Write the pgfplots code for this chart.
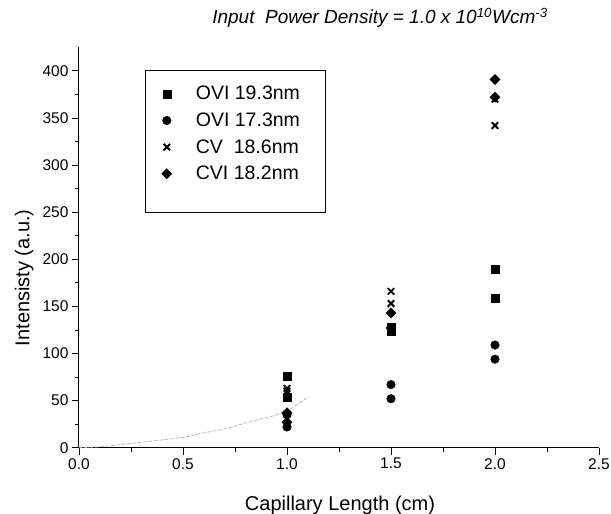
\documentclass[border=0pt]{standalone}
\usepackage{pgfplots}
\pgfplotsset{compat=1.18}
\usepackage{fontspec}
\setmainfont{Liberation Sans}
\begin{document}
\begin{tikzpicture}
\useasboundingbox (-79pt,-66.3pt) rectangle (532pt,447.7pt);
\begin{axis}[
  at={(0pt,0pt)}, anchor=origin,
  scale only axis,
  width=520pt, height=400.3pt,
  xmin=0, xmax=2.5, ymin=0, ymax=425,
  axis x line*=bottom, axis y line*=left,
  axis line style={-, line width=1pt},
  xtick={0,0.5,...,2.5}, ytick={0,50,...,400},
  minor x tick num=1, minor y tick num=1,
  tick align=outside,
  major tick length=7pt, minor tick length=4pt,
  tick style={black, line width=0.9pt},
  /pgf/number format/assume math mode=true,
  xticklabel={\fontsize{15.5}{15.5}\selectfont\pgfmathprintnumber[fixed,fixed zerofill,precision=1]{\tick}},
  yticklabel={\fontsize{15.5}{15.5}\selectfont\pgfmathprintnumber[fixed]{\tick}},
  legend style={at={(0.1587,0.9033)}, anchor=north west, draw=none, fill=none,
    inner sep=0pt, column sep=24pt, row sep=11.5pt,
    nodes={inner sep=0pt}, font=\fontsize{19.5}{19.5}\selectfont},
  legend cell align=left,
  clip=false,
]
\addplot[gray!60, densely dashdotted, line width=0.8pt, smooth, forget plot] coordinates {
  (0,0) (0.1,1) (0.25,4.5) (0.5,11) (0.58,15) (0.7,20) (0.82,27.5) (0.92,33) (1.0,39) (1.05,46) (1.1,54)};
\addplot[only marks, mark=square*, mark size=4pt, black] coordinates {
  (1.0,76) (1.0,54) (1.5,128) (1.5,124) (2.0,189) (2.0,159)};
\addlegendentry{OVI 19.3nm}
\addplot[only marks, mark=*, mark size=4.3pt, black] coordinates {
  (1.0,35) (1.0,22) (1.5,67) (1.5,52) (2.0,109) (2.0,94)};
\addlegendentry{OVI 17.3nm}
\addplot[only marks, mark=x, mark size=4.6pt, black, mark options={line width=1.9pt}] coordinates {
  (1.0,63) (1.0,60) (1.5,166) (1.5,153) (2.0,370) (2.0,342)};
\addlegendentry{CV\ \ 18.6nm}
\addplot[only marks, mark=square*, mark size=3.6pt, black, mark options={rotate=45}] coordinates {
  (1.0,37) (1.0,27) (1.5,143) (1.5,127) (2.0,391) (2.0,372)};
\addlegendentry{CVI 18.2nm}
\draw[black, line width=0.9pt] (axis description cs:0.1269,0.9435) rectangle (axis description cs:0.4731,0.5888);
\end{axis}
\node[font=\fontsize{19}{19}\selectfont\itshape, anchor=base] at (301pt,423.7pt)
  {Input\ \ Power Density = 1.0 x 10\textsuperscript{10}Wcm\textsuperscript{-3}};
\node[font=\fontsize{20}{20}\selectfont, anchor=base] at (261pt,-62.9pt) {Capillary Length (cm)};
\node[font=\fontsize{20}{20}\selectfont, anchor=base, rotate=90] at (-49.5pt,170pt) {Intensisty (a.u.)};
\end{tikzpicture}
\end{document}
